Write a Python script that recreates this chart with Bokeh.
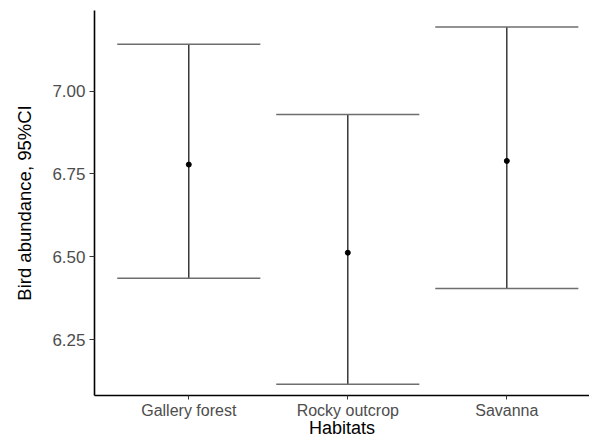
from bokeh.plotting import figure
from bokeh.models import ColumnDataSource, FixedTicker, Range1d
from bokeh.embed import file_html
from bokeh.resources import INLINE

habitats = ["Gallery forest", "Rocky outcrop", "Savanna"]
means = [6.778, 6.512, 6.789]
lower = [6.435, 6.115, 6.404]
upper = [7.141, 6.929, 7.193]
y_ticks = [6.25, 6.50, 6.75, 7.00]
y_tick_labels = ["6.25", "6.50", "6.75", "7.00"]

Y_MIN, Y_MAX = 6.081, 7.243
xpos = [i + 1 for i in range(len(habitats))]
src = ColumnDataSource(dict(x=xpos, mean=means, lo=lower, hi=upper,
                            xl=[v - 0.45 for v in xpos], xr=[v + 0.45 for v in xpos]))

p = figure(width=589, height=440, output_backend="svg", toolbar_location=None,
           x_range=Range1d(0.407, 3.52), y_range=Range1d(Y_MIN, Y_MAX),
           min_border_left=94, min_border_right=0, min_border_top=10,
           min_border_bottom=42)
p.outline_line_color = None
p.grid.grid_line_color = None
p.background_fill_color = "white"
p.border_fill_color = "white"

p.segment(x0="x", y0="lo", x1="x", y1="hi", source=src, line_color="#1a1a1a", line_width=1.3)
p.segment(x0="xl", y0="hi", x1="xr", y1="hi", source=src, line_color="#6e6e6e", line_width=1.5)
p.segment(x0="xl", y0="lo", x1="xr", y1="lo", source=src, line_color="#6e6e6e", line_width=1.5)
p.scatter(x="x", y="mean", source=src, size=5, color="black")

p.xaxis.ticker = FixedTicker(ticks=xpos)
p.xaxis.major_label_overrides = {v: h for v, h in zip(xpos, habitats)}
p.yaxis.ticker = FixedTicker(ticks=y_ticks)
p.yaxis.major_label_overrides = {v: l for v, l in zip(y_ticks, y_tick_labels)}

for ax in (p.xaxis, p.yaxis):
    ax.axis_line_color = "black"
    ax.axis_line_width = 1.6
    ax.major_tick_line_color = "#333333"
    ax.major_tick_in = 0
    ax.major_tick_out = 5
    ax.minor_tick_line_color = None
    ax.major_label_text_color = "#4d4d4d"
    ax.major_label_text_font = "Liberation Sans"
    ax.major_label_text_font_size = "17px"
    ax.axis_label_text_font = "Liberation Sans"
    ax.axis_label_text_font_style = "normal"
    ax.axis_label_text_color = "black"

p.xaxis.major_tick_out = 4
p.xaxis.major_label_text_font_size = "16px"
p.xaxis.major_label_standoff = 2
p.xaxis.axis_label = "Habitats"
p.xaxis.axis_label_text_font_size = "18px"
p.xaxis.axis_label_standoff = -4

p.yaxis.axis_label = "Bird abundance, 95%CI"
p.yaxis.axis_label_text_font_size = "18.5px"
p.yaxis.major_label_standoff = 4
p.yaxis.axis_label_standoff = 14

open("out.html", "w").write(file_html(p, INLINE))
